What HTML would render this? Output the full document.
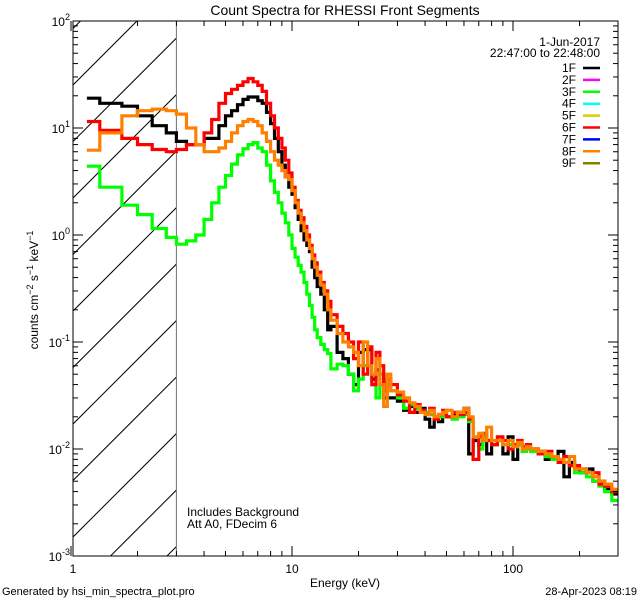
<!DOCTYPE html>
<html><head><meta charset="utf-8"><style>
html,body{margin:0;padding:0;background:#fff;}
svg{display:block;font-family:"Liberation Sans",sans-serif;}
</style></head><body>
<svg id="chart" width="640" height="600" viewBox="0 0 640 600" xmlns="http://www.w3.org/2000/svg">
<rect x="0" y="0" width="640" height="600" fill="#fff"/>
<text x="345" y="15" font-size="14" text-anchor="middle">Count Spectra for RHESSI Front Segments</text>
<g id="hatch"></g>
<g id="series"></g>
<g id="axes"></g>
<text transform="translate(38,290) rotate(-90)" font-size="12" text-anchor="middle">counts cm<tspan dy="-5" font-size="9">−2</tspan><tspan dy="5"> s</tspan><tspan dy="-5" font-size="9">−1</tspan><tspan dy="5"> keV</tspan><tspan dy="-5" font-size="9">−1</tspan></text>
<text x="345" y="587" font-size="12" text-anchor="middle">Energy (keV)</text>
<text x="187" y="516" font-size="12">Includes Background</text>
<text x="187" y="528" font-size="12">Att A0, FDecim 6</text>
<text x="2" y="595" font-size="11">Generated by hsi_min_spectra_plot.pro</text>
<text x="637" y="595" font-size="11" text-anchor="end">28-Apr-2023 08:19</text>
<g id="legend"></g>
</svg>
<script>
const edges = [1.18,1.35,1.7,2.0,2.33,2.7,3.0,3.33,3.67,4.0,4.33,4.67,5.0,5.33,5.67,6.0,6.33,6.67,7.0,7.33,7.67,8.0,8.33,8.67,9.0,9.33,9.67,10,10.33,10.67,11,11.33,11.67,12,12.33,12.67,13,13.5,14,14.5,15,16,17,18,19,20,21,22,23,24,25,26,27,28,30,32,34,36,38,40,42,44,46,48,50,53,56,60,63,66,70,73,76,80,85,90,95,100,105,110,115,120,130,140,150,160,170,180,190,200,215,230,245,260,280,300];
const series1F = [19,17,16,13,10.5,9,7.5,7,7,8,8,10.5,13,14.5,16.5,18.5,19.5,19.5,18,17,14,11,8,6,4.5,3.5,2.8,2.4,1.8,1.4,1.1,0.9,0.8,0.7,0.5,0.4,0.33,0.28,0.2,0.13,0.14,0.08,
0.07,0.05,0.04,0.08,0.085,0.085,0.045,0.055,0.05,0.03,0.03,0.03,0.028,0.023,0.025,0.022,0.024,0.019,0.016,0.02,0.018,0.021,0.02,0.021,0.022,0.024,0.009,0.012,0.011,0.013,0.009,0.011,0.012,0.009,0.013,0.008,0.011,0.0095,0.0105,0.01,0.0095,0.008,0.0085,0.0095,0.0055,0.0075,0.0065,0.006,0.0065,0.005,0.005,0.0042,0.0038];
const series3F = [4.4,2.8,1.9,1.55,1.15,0.95,0.82,0.88,1.0,1.4,2.0,2.8,3.6,4.6,5.6,6.4,7,7.3,6.5,6,4.5,3.2,2.5,2.0,1.6,1.3,1.0,0.75,0.62,0.52,0.45,0.36,0.28,0.22,0.17,0.13,0.11,0.095,0.085,0.078,0.056,0.062,
0.06,0.05,0.035,0.045,0.06,0.06,0.04,0.03,0.05,0.045,0.04,0.035,0.03,0.024,0.026,0.024,0.023,0.022,0.021,0.02,0.02,0.021,0.02,0.019,0.02,0.021,0.018,0.013,0.01,0.013,0.012,0.011,0.012,0.011,0.011,0.0105,0.011,0.0095,0.01,0.0095,0.009,0.0085,0.008,0.0075,0.0075,0.007,0.006,0.006,0.0055,0.005,0.0045,0.004,0.0033];
const series6F = [11.5,9.5,8,7,6.3,6,6.3,7,7,9,12,17,21,23,25,27,29,27,25,22,17,13,10,8,6.5,5,3.8,2.8,2.1,1.7,1.45,1.2,1.0,0.8,0.65,0.55,0.45,0.36,0.3,0.24,0.18,0.14,
0.12,0.1,0.07,0.1,0.05,0.09,0.04,0.08,0.06,0.035,0.045,0.04,0.032,0.028,0.022,0.026,0.023,0.021,0.024,0.019,0.021,0.023,0.02,0.022,0.021,0.022,0.019,0.008,0.013,0.014,0.012,0.011,0.013,0.012,0.01,0.011,0.012,0.0105,0.011,0.01,0.009,0.0095,0.0085,0.0075,0.0085,0.007,0.007,0.0065,0.006,0.006,0.0047,0.0045,0.004];
const series8F = [6.2,9,13,14.5,15,14.5,13.5,10,7,6,6,6.5,7.5,9,10.5,11.5,12,11.5,10.5,9,7.5,6,5,4.5,4,3.5,3.3,2.6,2.0,1.6,1.3,1.1,0.9,0.75,0.6,0.5,0.42,0.34,0.28,0.2,0.16,0.12,
0.1,0.09,0.08,0.06,0.1,0.06,0.05,0.07,0.04,0.025,0.05,0.035,0.034,0.03,0.027,0.025,0.022,0.021,0.023,0.02,0.021,0.022,0.023,0.02,0.022,0.024,0.02,0.013,0.014,0.012,0.016,0.012,0.012,0.011,0.012,0.0105,0.0115,0.01,0.0105,0.01,0.0095,0.009,0.0085,0.008,0.0075,0.0085,0.0065,0.0065,0.006,0.0055,0.005,0.0047,0.0042];
const legendLabels = ["1F","2F","3F","4F","5F","6F","7F","8F","9F"];
const legendColors = ["#000000","#ff00ff","#00ff00","#00ffff","#d8d000","#ff0000","#0000ff","#ff8000","#808000"];
const yTickExps = [-3,-2,-1,0,1,2];
const xTickLabels = ["1","10","100"];
const xTickValues = [1,10,100];

const NS="http://www.w3.org/2000/svg";
const L=73,R=618,T=21,B=556;
const X0=71, XD=221, Y2=21, YD=107;
function xs(e){return X0+XD*Math.log10(e);}
function ys(v){return Y2+YD*(2-Math.log10(v));}
function mk(tag,attrs,parent){const el=document.createElementNS(NS,tag);for(const k in attrs)el.setAttribute(k,attrs[k]);parent.appendChild(el);return el;}

// clip
const defs=mk('defs',{},document.getElementById('chart'));
const cp=mk('clipPath',{id:'plotclip'},defs);
mk('rect',{x:L,y:T,width:R-L,height:B-T},cp);
const hcp=mk('clipPath',{id:'hatchclip'},defs);
mk('rect',{x:L,y:T,width:xs(3)-L,height:B-T},hcp);

// hatch
const hg=document.getElementById('hatch');
hg.setAttribute('clip-path','url(#hatchclip)');
for(let c=158-56.5*12;c<900;c+=56.5){
  const ln=mk('line',{x1:c-T,y1:T,x2:c-B,y2:B,stroke:'#000','stroke-width':1},hg);
  
  
}
const bl=mk('line',{x1:xs(3),y1:T,x2:xs(3),y2:B,stroke:'#000','stroke-width':1},hg);



// series
const sg=document.getElementById('series');
sg.setAttribute('clip-path','url(#plotclip)');
function stepPath(vals){
  let d='';
  const n=Math.min(vals.length,edges.length-1);
  for(let i=0;i<n;i++){
    const x1=xs(edges[i]).toFixed(1),x2=xs(edges[i+1]).toFixed(1),y=ys(vals[i]).toFixed(1);
    d+=(i===0?'M':'L')+x1+','+y+'L'+x2+','+y;
  }
  return d;
}
const drawList=[[series1F,'#000000','series-1f'],[series3F,'#00ff00','series-3f'],[series6F,'#ff0000','series-6f'],[series8F,'#ff8000','series-8f']];
drawList.forEach(s=>{
  const p=mk('path',{d:stepPath(s[0]),fill:'none',stroke:s[1],'stroke-width':3.2,'stroke-linejoin':'miter'},sg);
  
  
});

// axes
const ag=document.getElementById('axes');
const frame=mk('rect',{x:L,y:T,width:R-L,height:B-T,fill:'none',stroke:'#000','stroke-width':1},ag);


yTickExps.forEach(e=>{
  const y=ys(Math.pow(10,e));
  mk('line',{x1:L,y1:y,x2:L+10,y2:y,stroke:'#000'},ag);
  mk('line',{x1:R,y1:y,x2:R-10,y2:y,stroke:'#000'},ag);
  const t=mk('text',{x:L-3,y:y+5,'font-size':12,'text-anchor':'end'},ag);
  
  
  t.innerHTML='10<tspan dy="-6" font-size="9">'+e+'</tspan>';
  if(e<2){for(let m=2;m<=9;m++){const ym=ys(m*Math.pow(10,e));
    mk('line',{x1:L,y1:ym,x2:L+5,y2:ym,stroke:'#000'},ag);
    mk('line',{x1:R,y1:ym,x2:R-5,y2:ym,stroke:'#000'},ag);}}
});
xTickValues.forEach((v,i)=>{
  const x=xs(v);
  if(x>=L-3){
    mk('line',{x1:x,y1:B,x2:x,y2:B-10,stroke:'#000'},ag);
    mk('line',{x1:x,y1:T,x2:x,y2:T+10,stroke:'#000'},ag);
  }
  const t=mk('text',{x:Math.max(x,L),y:B+17,'font-size':12,'text-anchor':'middle'},ag);
  
  
  t.textContent=xTickLabels[i];
  for(let m=2;m<=9;m++){const xm=xs(m*v);if(xm>L&&xm<R){
    mk('line',{x1:xm,y1:B,x2:xm,y2:B-5,stroke:'#000'},ag);
    mk('line',{x1:xm,y1:T,x2:xm,y2:T+5,stroke:'#000'},ag);}}
});

// legend
const lg=document.getElementById('legend');
const d1=mk('text',{x:600,y:46,'font-size':12,'text-anchor':'end'},lg);


d1.textContent='1-Jun-2017';
const d2=mk('text',{x:600,y:57,'font-size':12,'text-anchor':'end'},lg);


d2.textContent='22:47:00 to 22:48:00';
legendLabels.forEach((lab,i)=>{
  const y=68+i*11.9;
  const t=mk('text',{x:576,y:y+4,'font-size':12,'text-anchor':'end'},lg);
  
  
  t.textContent=lab;
  const l=mk('line',{x1:583,y1:y,x2:600,y2:y,stroke:legendColors[i],'stroke-width':2.5},lg);
  
  
});
</script>
</body></html>
